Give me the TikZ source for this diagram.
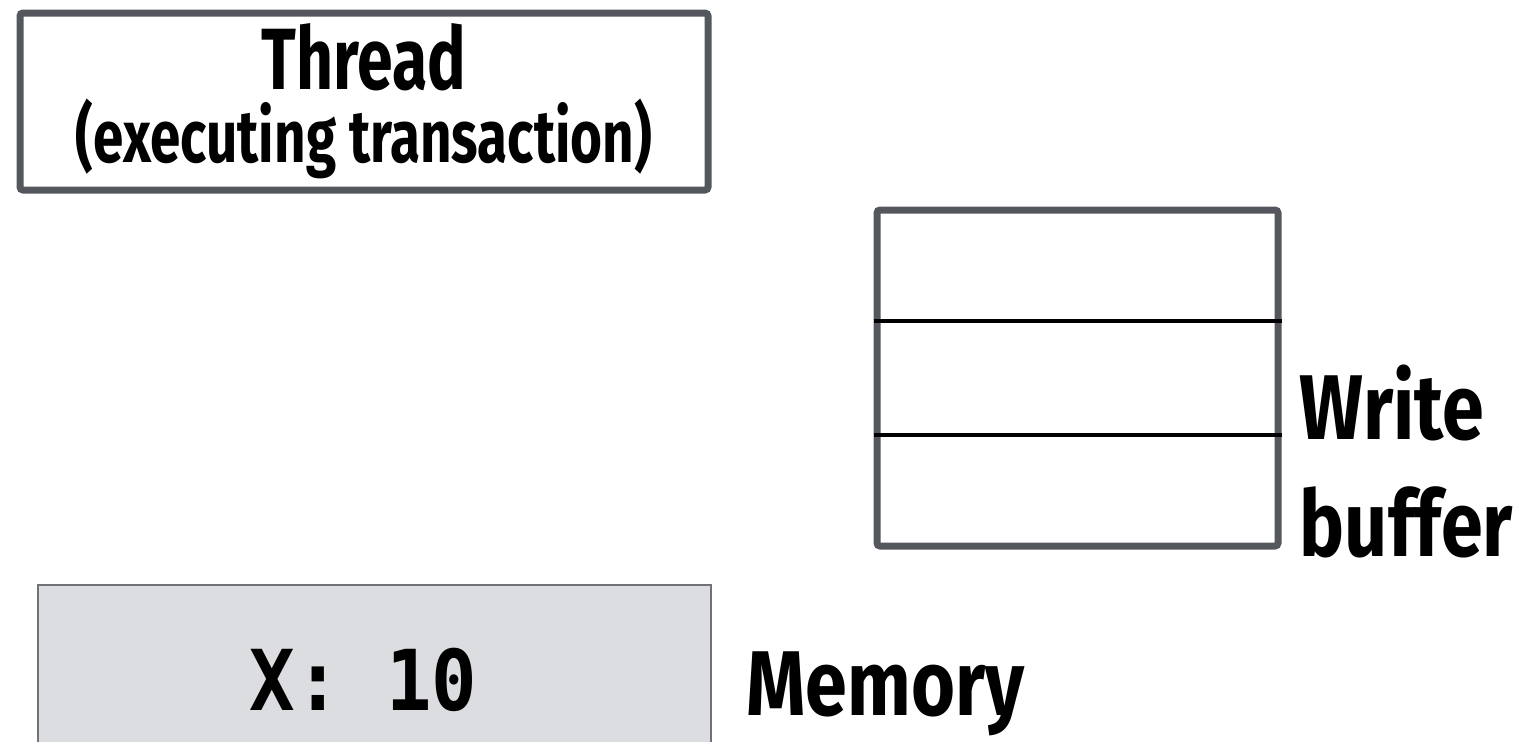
\documentclass[tikz,border=0pt]{standalone}
\usepackage{fontspec}
\setmainfont{Fira Sans}[FakeStretch=0.74]
\newfontfamily\labelfont{Fira Sans}[FakeStretch=0.82]
\newfontfamily\codefont{DejaVu Sans Mono}[FakeStretch=0.9]
\usetikzlibrary{positioning,calc}
\definecolor{boxgray}{RGB}{84,88,94}
\definecolor{memfill}{RGB}{220,221,224}
\definecolor{memline}{RGB}{112,114,120}
\begin{document}
\begin{tikzpicture}[
    x=0.5pt, y=-0.5pt,
    heavybox/.style={
        draw=boxgray,
        line width=3.5pt,
        rounded corners=1.5pt,
        inner sep=0pt
    },
    divider/.style={
        line width=2pt,
        black
    },
    memorybox/.style={
        draw=memline,
        fill=memfill,
        line width=1pt,
        inner sep=0pt,
        minimum width=336.5pt,
        minimum height=95pt
    },
    biglabel/.style={
        font=\labelfont\bfseries\fontsize{46}{58.5}\selectfont,
        inner sep=0pt
    }
    ]
    \useasboundingbox[fill=white] (0,0) rectangle (1522,741);
    \clip (0,0) rectangle (1522,741);

    \node[heavybox, minimum width=344pt, minimum height=88.5pt, align=center,
          font=\bfseries\fontsize{37}{32.5}\selectfont] (thread) at (364,101.5)
        {{\fontsize{43.5}{32.5}\selectfont Thread}\\[3pt]
         (executing transaction)};

    \node[heavybox, minimum width=200.5pt, minimum height=168pt] (wbuf) at (1077.5,378) {};
    \foreach \k in {1,2}
        \draw[divider] ($(wbuf.north west)!\k/3!(wbuf.south west)$) -- ($(wbuf.north east)!\k/3!(wbuf.south east)$);
    \node[biglabel, align=left, anchor=south west] (wblabel)
        at ([xshift=9pt, yshift=-4.5pt]wbuf.south east) {Write\\buffer};

    \node[memorybox] (mem) at (374.5,680)
        {\codefont\bfseries\fontsize{42}{42}\selectfont X: 10\hspace*{11pt}};
    \node[biglabel, anchor=base west] (memlabel)
        at ([xshift=17pt, yshift=-17.5pt]mem.east) {Memory};
\end{tikzpicture}
\end{document}
